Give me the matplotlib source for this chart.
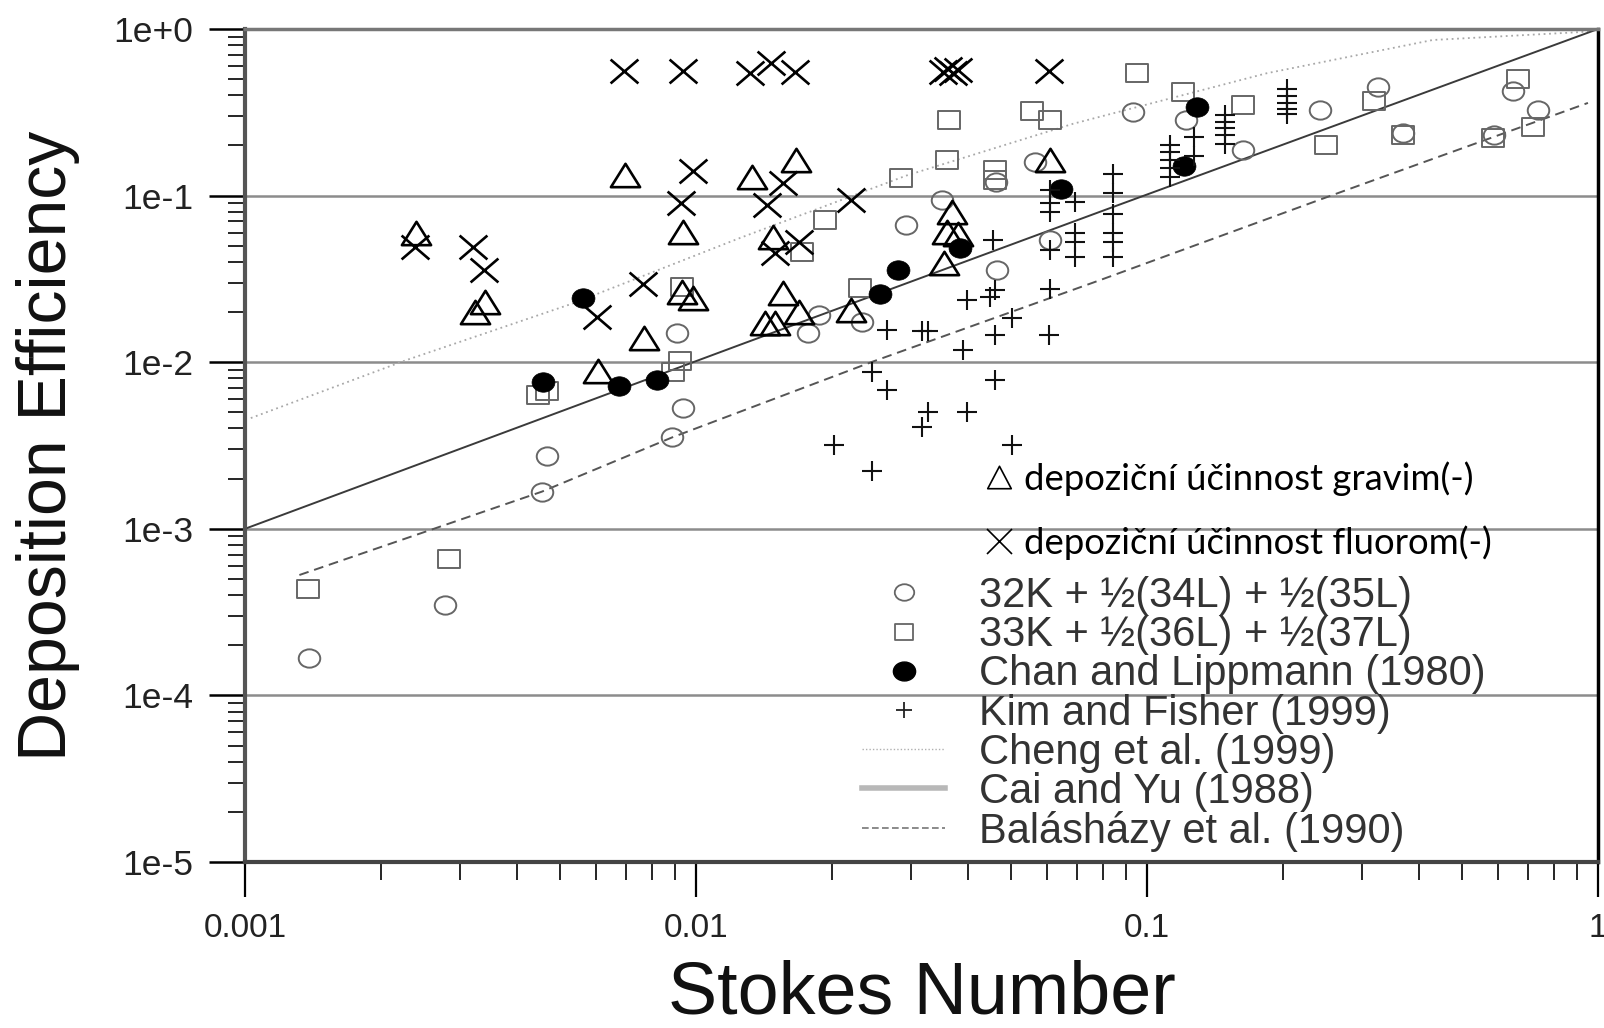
import numpy as np
import matplotlib
matplotlib.use("Agg")
import matplotlib.pyplot as plt
from matplotlib.path import Path
from matplotlib.transforms import Affine2D
from matplotlib.lines import Line2D
from matplotlib.font_manager import FontProperties
from matplotlib.ticker import LogLocator, NullFormatter, FuncFormatter

plt.rcParams['font.family'] = ['Liberation Sans', 'DejaVu Sans']

# --- data (Stokes number, deposition efficiency) ---
grav_st = [0.00239, 0.00323, 0.00341, 0.00605, 0.00696, 0.00767, 0.00930, 0.00937,
           0.00986, 0.0133, 0.0142, 0.0150, 0.0148, 0.0156, 0.0167, 0.0169, 0.0221,
           0.0355, 0.0360, 0.0381, 0.0370, 0.0609]
grav_e = [0.0594, 0.0201, 0.0231, 0.00886, 0.133, 0.0139, 0.0265, 0.0607,
          0.0242, 0.130, 0.0171, 0.0171, 0.0567, 0.0259, 0.164, 0.0201, 0.0206,
          0.0394, 0.0605, 0.0588, 0.0797, 0.164]

fluo_st = [0.00238, 0.00321, 0.00339, 0.00604, 0.00693, 0.00764, 0.00937, 0.00925,
           0.00983, 0.0132, 0.0147, 0.0166, 0.0144, 0.0156, 0.0150, 0.0169, 0.0221,
           0.0353, 0.0362, 0.0371, 0.0381, 0.0607]
fluo_e = [0.0489, 0.0494, 0.0358, 0.0188, 0.562, 0.0295, 0.562, 0.0899,
          0.141, 0.542, 0.622, 0.554, 0.0878, 0.119, 0.0450, 0.0529, 0.0941,
          0.552, 0.575, 0.544, 0.567, 0.562]

k32_st = [0.00139, 0.00278, 0.00455, 0.00468, 0.00886, 0.00934, 0.00906, 0.0177,
          0.0187, 0.0233, 0.0292, 0.0352, 0.0463, 0.0464, 0.0565, 0.0609, 0.0932,
          0.122, 0.163, 0.242, 0.326, 0.370, 0.589, 0.649, 0.737]
k32_e = [0.000168, 0.000347, 0.00167, 0.00274, 0.00354, 0.00529, 0.0150, 0.0149,
         0.0192, 0.0175, 0.0666, 0.0941, 0.121, 0.0358, 0.160, 0.0541, 0.319,
         0.284, 0.188, 0.327, 0.450, 0.237, 0.231, 0.425, 0.327]

k33_st = [0.00138, 0.00284, 0.00447, 0.00467, 0.00922, 0.00890, 0.00930, 0.0172,
          0.0193, 0.0231, 0.0285, 0.0360, 0.0364, 0.0460, 0.0460, 0.0555, 0.0609,
          0.0950, 0.120, 0.163, 0.250, 0.318, 0.370, 0.584, 0.666, 0.717]
k33_e = [0.000433, 0.000659, 0.00636, 0.00672, 0.0101, 0.00877, 0.0284, 0.0461,
         0.0714, 0.0278, 0.127, 0.164, 0.284, 0.142, 0.124, 0.322, 0.284,
         0.542, 0.421, 0.350, 0.201, 0.371, 0.231, 0.221, 0.499, 0.257]

chan_st = [0.00458, 0.00561, 0.00676, 0.00818, 0.0256, 0.0280, 0.0385, 0.0644, 0.121, 0.129]
chan_e = [0.00764, 0.0244, 0.00717, 0.00779, 0.0256, 0.0358, 0.0483, 0.109, 0.151, 0.339]

kim_st = [0.0202, 0.0245, 0.0245, 0.0265, 0.0265, 0.0317, 0.0327, 0.0317, 0.0327,
          0.0391, 0.0398, 0.0398, 0.0449, 0.0460, 0.0456, 0.0460, 0.0460, 0.0501,
          0.0501, 0.0607, 0.0609, 0.0609, 0.0609, 0.0609, 0.0609,
          0.0693, 0.0693, 0.0693, 0.0693,
          0.0841, 0.0841, 0.0841, 0.0841, 0.0841, 0.0841,
          0.1125, 0.1125, 0.1125, 0.1125, 0.1125,
          0.127, 0.127,
          0.149, 0.149, 0.149, 0.149, 0.149,
          0.204, 0.204, 0.204, 0.204, 0.204]
kim_e = [0.00318, 0.00877, 0.00223, 0.0155, 0.00681, 0.0154, 0.0154, 0.00410, 0.00505,
         0.0118, 0.0236, 0.00505, 0.0247, 0.0271, 0.0541, 0.0145, 0.00785, 0.0183,
         0.00318, 0.0145, 0.0275, 0.0472, 0.108, 0.0899, 0.0800,
         0.0919, 0.0594, 0.0529, 0.0430,
         0.135, 0.104, 0.0775, 0.0596, 0.0527, 0.0428,
         0.201, 0.183, 0.164, 0.146, 0.129,
         0.225, 0.173,
         0.305, 0.277, 0.255, 0.231, 0.204,
         0.436, 0.396, 0.360, 0.331, 0.309]

cheng_st = [0.00103, 0.00228, 0.00535, 0.0125, 0.0293, 0.0686, 0.184, 0.43, 0.96]
cheng_e = [0.00462, 0.0103, 0.0226, 0.0556, 0.132, 0.27, 0.542, 0.859, 0.965]

cai_st = [0.001, 0.0125, 0.0787, 1.0]
cai_e = [0.001, 0.0127, 0.080, 1.0]

bal_st = [0.00132, 0.00455, 0.00886, 0.0247, 0.0787, 0.2585, 0.95]
bal_e = [0.000528, 0.00167, 0.00354, 0.0101, 0.0311, 0.101, 0.36]

legend_labels = ["32K + ½(34L) + ½(35L)", "33K + ½(36L) + ½(37L)",
                 "Chan and Lippmann (1980)", "Kim and Fisher (1999)",
                 "Cheng et al. (1999)", "Cai and Yu (1988)",
                 "Balásházy et al. (1990)"]
czech_labels = ["depoziční účinnost gravim(-)", "depoziční účinnost fluorom(-)"]

# --- marker shapes (the original picture is stretched a bit horizontally) ---
circ = Path.unit_circle().transformed(Affine2D().scale(1, 0.85))
sq = Path.unit_rectangle().transformed(Affine2D().translate(-0.5, -0.5).scale(1, 0.86))
tri = Path([(-1, -0.8), (1, -0.8), (0, 0.8), (-1, -0.8)],
           [Path.MOVETO, Path.LINETO, Path.LINETO, Path.CLOSEPOLY])
tri_key = Path([(-1, -0.95), (1, -0.95), (0, 0.95), (-1, -0.95)],
               [Path.MOVETO, Path.LINETO, Path.LINETO, Path.CLOSEPOLY])
xmark = Path([(-1, -0.86), (1, 0.86), (-1, 0.86), (1, -0.86)],
             [Path.MOVETO, Path.LINETO, Path.MOVETO, Path.LINETO])
xkey = Path([(-1, -1), (1, 1), (-1, 1), (1, -1)],
            [Path.MOVETO, Path.LINETO, Path.MOVETO, Path.LINETO])

fig = plt.figure(figsize=(16.04, 10.28), dpi=100)
ax = fig.add_axes([245 / 1604, 1 - 862 / 1028, 1353 / 1604, 833 / 1028])
ax.set_xscale("log")
ax.set_yscale("log")
ax.set_xlim(1e-3, 1)
ax.set_ylim(1e-5, 1)

# model curves
ax.plot(cheng_st, cheng_e, color="#a8a8a8", ls=(0, (1, 2)), lw=1.3, zorder=2)
ax.plot(cai_st, cai_e, color="#3a3a3a", lw=1.4, zorder=2)
ax.plot(bal_st, bal_e, color="#555555", ls=(0, (5, 3)), lw=1.4, zorder=2)

# measured data
ax.plot(k32_st, k32_e, ls="none", marker=circ, ms=15.5, mfc="none", mec="#666666", mew=1.4, zorder=3)
ax.plot(k33_st, k33_e, ls="none", marker=sq, ms=15.5, mfc="none", mec="#666666", mew=1.4, zorder=3)
ax.plot(chan_st, chan_e, ls="none", marker=circ, ms=16.5, mfc="black", mec="black", mew=0.5, zorder=3)
ax.plot(kim_st, kim_e, ls="none", marker="+", ms=14, mec="#111111", mew=1.5, zorder=3)
ax.plot(grav_st, grav_e, ls="none", marker=tri, ms=21, mfc="none", mec="black", mew=1.9, zorder=4)
ax.plot(fluo_st, fluo_e, ls="none", marker=xmark, ms=20, mfc="none", mec="black", mew=1.9, zorder=4)

# axes styling
ax.set_xticks([0.001, 0.01, 0.1, 1], ["0.001", "0.01", "0.1", "1"])
ax.xaxis.set_minor_locator(LogLocator(base=10, subs=np.arange(2, 10), numticks=100))
ax.xaxis.set_minor_formatter(NullFormatter())
ax.yaxis.set_major_locator(LogLocator(base=10, numticks=100))
ax.yaxis.set_minor_locator(LogLocator(base=10, subs=np.arange(2, 10), numticks=100))
ax.yaxis.set_minor_formatter(NullFormatter())
ax.yaxis.set_major_formatter(FuncFormatter(lambda v, p: "1e%+d" % int(round(np.log10(v)))))

ax.tick_params(axis="x", which="major", direction="out", length=25, width=1.6, labelsize=24, pad=12)
ax.tick_params(axis="x", which="minor", direction="out", length=13, width=1.2)
ax.tick_params(axis="y", which="major", direction="out", length=26, width=1.8, labelsize=25.5, pad=11)
ax.tick_params(axis="y", which="minor", direction="out", length=12, width=1.2)
for lab in ax.get_xticklabels() + ax.get_yticklabels():
    lab.set_color("#222222")

ax.yaxis.grid(True, which="major", color="#8c8c8c", lw=1.8)
ax.set_axisbelow(True)

ax.spines["left"].set_color("#555555")
ax.spines["left"].set_linewidth(3)
ax.spines["bottom"].set_color("#444444")
ax.spines["bottom"].set_linewidth(3)
ax.spines["top"].set_color("#777777")
ax.spines["top"].set_linewidth(2.5)
ax.spines["right"].set_color("black")
ax.spines["right"].set_linewidth(2.5)

ax.set_xlabel("Stokes Number", fontsize=53, color="#111111", va="baseline")
ax.xaxis.set_label_coords(0.5, (862 - 1013) / 833)
ax.set_ylabel("Deposition Efficiency", fontsize=49, color="#111111", va="center")
ax.yaxis.set_label_coords((48 - 245) / 1353, 0.5)

# original legend
handles = [
    Line2D([], [], ls="none", marker=circ, ms=14, mfc="none", mec="#666666", mew=1.3),
    Line2D([], [], ls="none", marker=sq, ms=13, mfc="none", mec="#666666", mew=1.3),
    Line2D([], [], ls="none", marker=circ, ms=16, mfc="black", mec="black"),
    Line2D([], [], ls="none", marker="+", ms=12, mec="#222222", mew=1.3),
    Line2D([], [], color="#b0b0b0", ls=(0, (1, 1.5)), lw=1.0),
    Line2D([], [], color="#b8b8b8", lw=4),
    Line2D([], [], color="#777777", ls=(0, (4, 2)), lw=1.2),
]
leg = ax.legend(handles, legend_labels, loc="upper left",
                bbox_to_anchor=((862 - 245) / 1353, (862 - 576) / 833),
                frameon=False, fontsize=30, labelspacing=-0.02, handlelength=2.0,
                handletextpad=0.8, borderpad=0, borderaxespad=0, labelcolor="#333333")
ax.add_artist(leg)

# added Czech legend entries
czech_handles = [
    Line2D([], [], ls="none", marker=tri_key, ms=17, mfc="none", mec="black", mew=1.2),
    Line2D([], [], ls="none", marker=xkey, ms=18, mfc="none", mec="black", mew=1.2),
]
czech_font = FontProperties(family=["Lato", "DejaVu Sans"], size=26.3)
ax.legend(czech_handles, czech_labels, loc="upper left",
          bbox_to_anchor=((985 - 245) / 1353, (862 - 461) / 833),
          frameon=False, prop=czech_font, labelspacing=0.82, handlelength=0.78,
          handletextpad=0.28, borderpad=0, borderaxespad=0, labelcolor="black")

fig.savefig("out.png", dpi=100)
